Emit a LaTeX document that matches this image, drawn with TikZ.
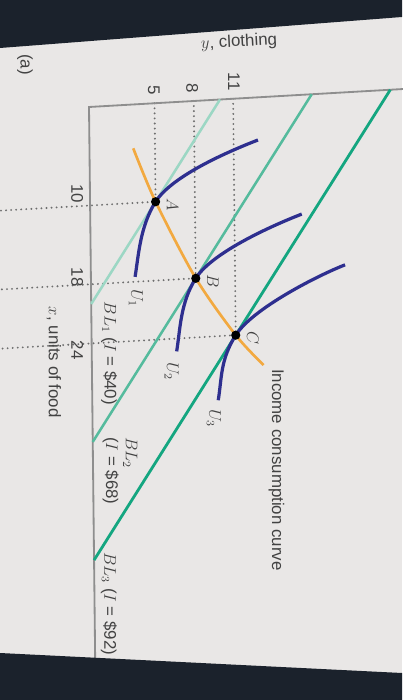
\documentclass[tikz,border=0pt]{standalone}
\usepackage{fontspec}
\setmainfont{Liberation Sans}
\usetikzlibrary{calc}
\definecolor{Paper}{HTML}{E9E7E6}
\definecolor{Bezel}{HTML}{1B222C}
\definecolor{Ink}{HTML}{424242}
\definecolor{AxisGray}{HTML}{8E8E8E}
\definecolor{GuideGray}{HTML}{6E6E6E}
\definecolor{Mint}{HTML}{9CD7C4}
\definecolor{Teal}{HTML}{55BB9D}
\definecolor{Sea}{HTML}{14A680}
\definecolor{Indigo}{HTML}{2E2F8F}
\definecolor{Amber}{HTML}{F2A940}
\tikzset{
  axis/.style={draw=AxisGray,line width=1.3pt},
  guide/.style={draw=GuideGray,line width=1.5pt,dash pattern=on 0pt off 3.6pt,line cap=round},
  budget/.style={line width=1.8pt},
  indiff/.style={draw=Indigo,line width=2.3pt},
  icc/.style={draw=Amber,line width=1.9pt},
  lbl/.style={font=\fontsize{12}{14}\selectfont,text=Ink,inner sep=0pt},
  vlbl/.style={lbl,rotate=-90},
}

\begin{document}
\begin{tikzpicture}[x=0.25mm,y=-0.25mm]
 \fill[Paper] (0,0) rectangle (402,700);
 \useasboundingbox (0,0) rectangle (402,700);
 \begin{scope}[shift={(89,107)},x={(0.0275mm,-2.4625mm)},y={(3.275mm,0.1875mm)}]
  \coordinate (O) at (0,0);
  \coordinate (A) at (10,5);
  \coordinate (B) at (18,8);
  \coordinate (C) at (24,11);
  \foreach \p/\q in {A/5,B/8,C/11} {
    \coordinate (ty\q) at (0,\q);
    \draw[guide] (ty\q) -- (\p);
  }
  \foreach \p/\q in {A/10,B/18,C/24} {
    \coordinate (tx\q) at (\q,-6.8);
    \draw[guide] (tx\q) -- (\p);
  }
  \draw[axis] (57,0) coordinate (xend) -- (O) -- (0,24) coordinate (yend);
  \draw[budget,draw=Mint] (20,0) coordinate (bx1) -- (0,10) coordinate (by1);
  \draw[budget,draw=Teal] (34,0) coordinate (bx2) -- (0,17) coordinate (by2);
  \draw[budget,draw=Sea,line width=2pt] (46,0) coordinate (bx3) -- (0,23) coordinate (by3);
  \foreach \p/\tx/\ty/\bx/\by in {A/-5.67/7.86/7.5/-1.63,B/-5.9/8.14/7.3/-1.52,C/-6.5/8.4/6.5/-1.39}
    \draw[indiff] ($(\p)+(\tx,\ty)$) .. controls +(0.9,-2.06) and +(-2.6,1.3) .. (\p)
      .. controls +(2.4,-1.2) and +(-2.3,0.3) .. ($(\p)+(\bx,\by)$);
  \draw[icc] plot[smooth] coordinates {(4.45,3.34) (A) (B) (C) (27.2,13.1)};
  \foreach \p in {A,B,C} {
    \fill[black] (\p) circle[radius=1.15mm];
    \node[vlbl] (l\p) at ($(\p)+(0.4,1.3)$) {$\p$};
  }
  \node[vlbl] (u1) at (19.7,3.42) {$U_1$};
  \node[vlbl] (u2) at (27.3,6.08) {$U_2$};
  \node[vlbl] (u3) at (32.3,9.27) {$U_3$};
  \node[vlbl] (bl1) at (25.1,1.32) {$BL_1$ ($I$ = \$40)};
  \node[vlbl,align=left] (bl2) at (37.1,2.05) {$BL_2$\\($I$ = \$68)};
  \node[vlbl] (bl3) at (50.5,1.1) {$BL_3$ ($I$ = \$92)};
  \node[vlbl] (iccl) at (37.9,14.0) {Income consumption curve};
  \node[vlbl] (xlab) at (25.7,-2.89) {$x$, units of food};
  \node[lbl,rotate=3] (ylab) at (-5.7,11.5) {$y$, clothing};
  \node[vlbl] (panel) at (-4.7,-4.85) {(a)};
  \foreach \v/\px/\py in {10/8.75/-0.97,18/17.2/-1.04,24/24.6/-1.1}
    \node[vlbl] (nx\v) at (\px,\py) {\v};
  \foreach \v/\px/\py in {5/-1.35/4.96,8/-1.3/7.89,11/-1.73/11.07}
    \node[vlbl] (ny\v) at (\px,\py) {\v};
 \end{scope}
 \fill[Bezel] (0,0) -- (402,0) -- (402,17) -- (0,48) -- cycle;
 \fill[Bezel] (0,653) -- (402,673) -- (402,700) -- (0,700) -- cycle;
\end{tikzpicture}
\end{document}
